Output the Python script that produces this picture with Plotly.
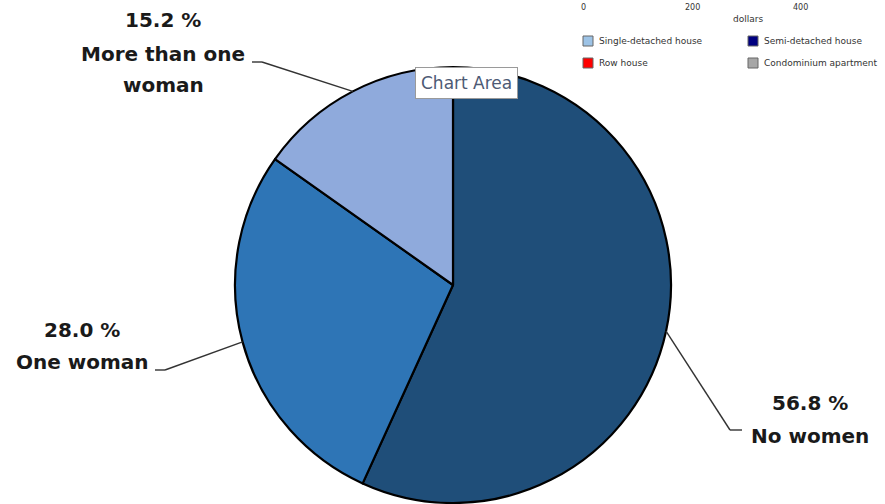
import math
import plotly.graph_objects as go

# ---- data ----
categories = ["No women", "One woman", "More than one woman"]
label_lines = [["No women"], ["One woman"], ["More than one", "woman"]]
shares = [56.8, 28.0, 15.2]
colors = ["#1F4E79", "#2E75B6", "#8FAADC"]

legend_items = ["Single-detached house", "Semi-detached house", "Row house", "Condominium apartment"]
legend_colors = ["#9DC3E6", "#000080", "#FF0000", "#A6A6A6"]
axis_ticks = [0, 200, 400]
axis_title = "dollars"

W, H = 885, 504
cx, cy, R = 453, 285, 218

fig = go.Figure()
fig.add_trace(go.Pie(
    labels=categories, values=shares, sort=False, direction="clockwise", rotation=0,
    marker=dict(colors=colors, line=dict(color="#000000", width=2.2)),
    textinfo="none", hoverinfo="label+percent", showlegend=False,
    domain=dict(x=[(cx - R) / W, (cx + R) / W], y=[1 - (cy + R) / H, 1 - (cy - R) / H]),
))

# label layout: (text centre x, pct y, first name-line y, elbow end x, elbow y, side)
label_pos = [
    (810, 403, 436, 742, 430, "right"),
    (82, 330, 362, 155, 370, "left"),
    (163, 20, 54, 252, 62, "left"),
]
LINE_GAP = 31
FONT = dict(family="DejaVu Sans", size=20, color="#1a1a1a", weight="bold")

shapes = []
annotations = []
cum = 0.0
total = sum(shares)
for i, v in enumerate(shares):
    mid = (cum + v / 2) / total * 2 * math.pi
    cum += v
    ex = cx + R * math.sin(mid)
    ey = cy - R * math.cos(mid)
    tx, py, ny, lx, ly, side = label_pos[i]
    elbow = lx - 12 if side == "right" else lx + 10
    shapes.append(dict(type="line", xref="x", yref="y", x0=ex, y0=ey, x1=elbow, y1=ly,
                       line=dict(color="#333333", width=1.4)))
    shapes.append(dict(type="line", xref="x", yref="y", x0=elbow, y0=ly, x1=lx, y1=ly,
                       line=dict(color="#333333", width=1.4)))
    annotations.append(dict(x=tx, y=py, xref="x", yref="y", text=f"{v:.1f} %", showarrow=False,
                            font=FONT))
    for j, line in enumerate(label_lines[i]):
        annotations.append(dict(x=tx, y=ny + j * LINE_GAP, xref="x", yref="y", text=line,
                                showarrow=False, font=FONT, yanchor="middle"))

# fragment of another chart's axis + legend at top right
tick_x = [583, 692, 800]
for t, x in zip(axis_ticks, tick_x):
    annotations.append(dict(x=x, y=1, xref="x", yref="y", text=str(t), showarrow=False,
                            yanchor="top", font=dict(family="DejaVu Sans", size=8, color="#333333")))
annotations.append(dict(x=748, y=19, xref="x", yref="y", text=axis_title, showarrow=False,
                        font=dict(family="DejaVu Sans", size=9, color="#333333")))
leg_pos = [(583, 41), (748, 41), (583, 63), (748, 63)]
for name, col, (x, y) in zip(legend_items, legend_colors, leg_pos):
    shapes.append(dict(type="rect", xref="x", yref="y", x0=x, y0=y - 5, x1=x + 10, y1=y + 5,
                       fillcolor=col, line=dict(color="#666666", width=1)))
    annotations.append(dict(x=x + 14, y=y, xref="x", yref="y", text=name, showarrow=False,
                            xanchor="left", font=dict(family="DejaVu Sans", size=9, color="#333333")))

# tooltip
annotations.append(dict(x=466, y=83, xref="x", yref="y", text="Chart Area", showarrow=False,
                        font=dict(family="DejaVu Sans", size=17, color="#4d5a75"),
                        bgcolor="#ffffff", bordercolor="#9a9a9a", borderwidth=1, borderpad=5))

fig.update_layout(
    width=W, height=H, margin=dict(l=0, r=0, t=0, b=0),
    paper_bgcolor="#ffffff", plot_bgcolor="rgba(0,0,0,0)",
    xaxis=dict(range=[0, W], visible=False, fixedrange=True),
    yaxis=dict(range=[H, 0], visible=False, fixedrange=True),
    shapes=shapes, annotations=annotations,
)
fig.write_html("out.html", config={"displayModeBar": False},
               post_script="document.body.style.margin='0';")
